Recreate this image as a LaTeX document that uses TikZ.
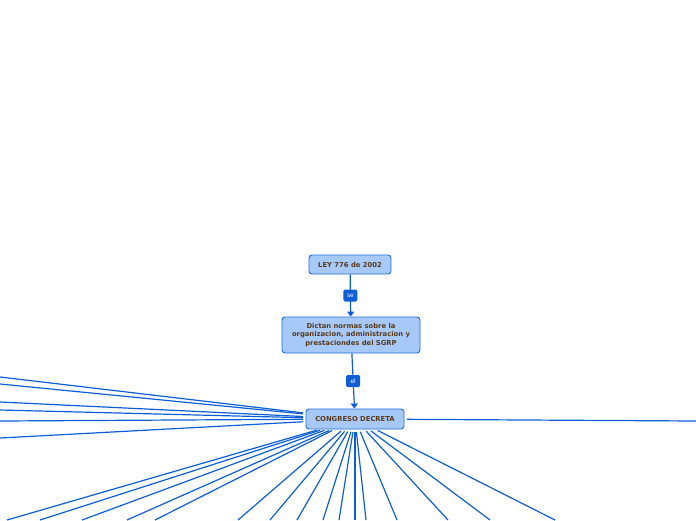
\documentclass[tikz,border=0pt]{standalone}
\usepackage{fontspec}
\setmainfont{DejaVu Sans}
\usetikzlibrary{arrows.meta}
\definecolor{boxfill}{HTML}{A6C9FA}
\definecolor{boxline}{HTML}{1F6FE0}
\definecolor{txt}{HTML}{5B3A1A}
\definecolor{wire}{HTML}{0B5ED7}
\definecolor{lab}{HTML}{0D5FD6}
\tikzset{
  topic/.style={draw=boxline, line width=0.9pt, fill=boxfill, rounded corners=3pt,
    text=txt, font=\fontsize{6.8}{8.5}\selectfont\bfseries, align=center,
    inner xsep=0pt, inner ysep=0pt},
  wirearrow/.style={draw=wire, line width=1.2pt, -{Triangle[width=7pt,length=5pt]}},
  ray/.style={draw=wire, line width=1.2pt, shorten <=2.5pt},
  linklabel/.style={fill=lab, rounded corners=1.5pt, text=white, font=\fontsize{6}{7}\selectfont,
    minimum width=14pt, minimum height=12pt, inner sep=0pt}
}
\begin{document}
\begin{tikzpicture}[x=1pt,y=-1pt]
\useasboundingbox (0,0) rectangle (696,520);
\begin{scope}
\clip (0,0) rectangle (696,520);
\node[topic, minimum width=82pt, minimum height=19pt] (ley) at (350,264.5) {LEY 776 de 2002};
\node[topic, minimum width=138pt, minimum height=36pt] (dict) at (351,335) {Dictan normas sobre la\\organizacion, administracion y\\prestaciondes del SGRP};
\node[topic, minimum width=98pt, minimum height=20pt] (cong) at (355,419) {CONGRESO DECRETA};

\draw[wirearrow] (ley) -- (dict) node[pos=0.5, linklabel] (se) {se};
\draw[wirearrow] (dict) -- (cong) node[pos=0.5, linklabel] (el) {el};

% free ends
\coordinate (l1) at (0,377);
\coordinate (l2) at (0,384);
\coordinate (l3) at (0,402);
\coordinate (l4) at (0,410);
\coordinate (l5) at (0,421);
\coordinate (l6) at (0,438);
\coordinate (r1) at (696,421);
\foreach \i/\x in {1/7,2/40,3/82,4/127,5/155,6/238,7/270,8/297,9/323,10/339,11/355,12/366,13/397,14/448,15/490,16/555}{
  \coordinate (b\i) at (\x,520);
}
\foreach \n in {l1,l2,l3,l4,l5,l6,r1}{
  \draw[ray] (cong) -- (\n);
}
\foreach \i in {1,...,16}{
  \draw[ray] (cong) -- (b\i);
}
\end{scope}
\end{tikzpicture}
\end{document}
